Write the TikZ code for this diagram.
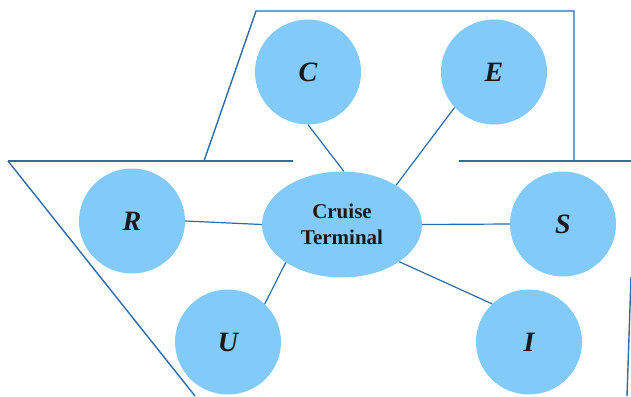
\documentclass[tikz,border=0pt]{standalone}
\usepackage{fontspec}
\setmainfont{Liberation Serif}
\usetikzlibrary{shapes.geometric}
\definecolor{nodefill}{HTML}{82CAFA}
\definecolor{linecol}{HTML}{2A6DAA}
\tikzset{
  bubble/.style={ellipse, fill=nodefill, minimum width=106pt, minimum height=105pt, inner sep=0pt,
    font=\fontsize{28}{30}\selectfont\bfseries\itshape, text=black!90},
  hub/.style={ellipse, fill=nodefill, minimum width=160pt, minimum height=106pt, inner sep=0pt,
    font=\fontsize{21}{25.5}\selectfont\bfseries, text=black!90, align=center},
  link/.style={draw=linecol, line width=1.2pt},
  frame/.style={draw=linecol, line width=1.4pt}
}
\begin{document}
\begin{tikzpicture}[x=1pt,y=-1pt]
\useasboundingbox (0,0) rectangle (631,396);
% outline
\coordinate (a1) at (8,161);
\coordinate (a2) at (293,161);
\coordinate (b1) at (204,161);
\coordinate (b2) at (256,11);
\coordinate (b3) at (574,11);
\coordinate (b4) at (574,161);
\coordinate (c1) at (459,161);
\coordinate (c2) at (631,161);
\coordinate (d1) at (195,396);
\coordinate (e1) at (631,277);
\coordinate (e2) at (627,396);
\draw[frame] (a1) -- (a2);
\draw[frame] (b1) -- (b2) -- (b3) -- (b4);
\draw[frame] (c1) -- (c2);
\draw[frame] (a1) -- (d1);
\draw[frame] (e1) -- (e2);
% nodes
\node[hub] (T) at (342,224.5) {Cruise\\Terminal};
\node[bubble] (C) at (308,72) {C};
\node[bubble] (E) at (494,72) {E};
\node[bubble] (R) at (132,221) {R};
\node[bubble] (S) at (563,224) {S};
\node[bubble] (U) at (228,342) {U};
\node[bubble] (I) at (529,342) {I};
% links
\draw[link] (C.south) -- (T.88);
\draw[link] (E.222) -- (T.36);
\draw[link] (R.east) -- (T.west);
\draw[link] (T.east) -- (S.west);
\draw[link] (T.214) -- (U.46);
\draw[link] (T.327) -- (I.134);
\end{tikzpicture}
\end{document}
